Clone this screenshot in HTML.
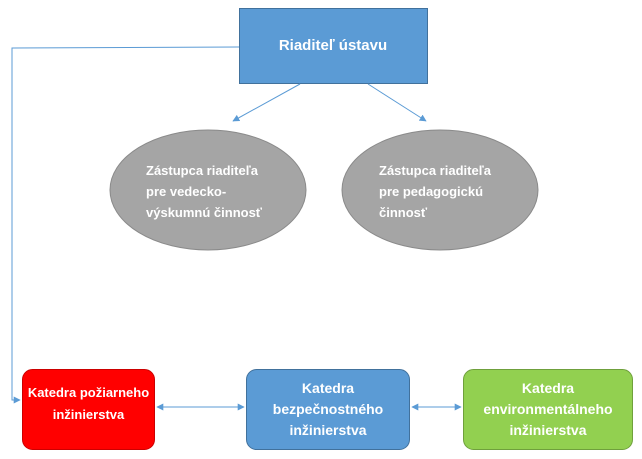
<!DOCTYPE html>
<html><head><meta charset="utf-8"><style>
body{margin:0;width:642px;height:459px;background:#fff;position:relative;overflow:hidden;font-family:"Liberation Sans",sans-serif}
.t{position:absolute;color:#fff;font-weight:bold;font-size:14px;line-height:21px;text-align:center;display:flex;align-items:center;justify-content:center}
</style></head><body>
<svg width="642" height="459" style="position:absolute;left:0;top:0">
<defs><marker id="a" viewBox="0 0 10 10" refX="9" refY="5" markerWidth="7" markerHeight="7" orient="auto-start-reverse"><path d="M0,0L10,5L0,10z" fill="#5b9bd5"/></marker></defs>
<rect x="239.5" y="8.5" width="188" height="75" fill="#5b9bd5" stroke="#41719c"/>
<ellipse cx="208" cy="190" rx="98" ry="60" fill="#a5a5a5" stroke="#8a8a8a"/>
<ellipse cx="440" cy="190" rx="98" ry="60" fill="#a5a5a5" stroke="#8a8a8a"/>
<rect x="22.5" y="369.5" width="132" height="80" rx="10" fill="#ff0000" stroke="#c00"/>
<rect x="246.5" y="369.5" width="163" height="80" rx="10" fill="#5b9bd5" stroke="#41719c"/>
<rect x="463.5" y="369.5" width="169" height="80" rx="10" fill="#92d050" stroke="#6fa03c"/>
<g stroke="#5b9bd5" stroke-width="1" fill="none">
<path d="M239,47 L12,48 L12,400 L20,400" marker-end="url(#a)"/>
<path d="M300,84 L233,121" marker-end="url(#a)"/>
<path d="M368,84 L426,121" marker-end="url(#a)"/>
<path d="M157,407 L244,407" marker-start="url(#a)" marker-end="url(#a)"/>
<path d="M412,407 L461,407" marker-start="url(#a)" marker-end="url(#a)"/>
</g>
</svg>
<div class="t" style="left:239px;top:8px;width:188px;height:75px;font-size:15px">Riaditeľ ústavu</div>
<div class="t" style="left:146px;top:155px;width:130px;height:72px;text-align:left;justify-content:flex-start;font-size:13px">Zástupca riaditeľa<br>pre vedecko-<br>výskumnú činnosť</div>
<div class="t" style="left:379px;top:155px;width:130px;height:72px;text-align:left;justify-content:flex-start;font-size:13px">Zástupca riaditeľa<br>pre pedagogickú<br>činnosť</div>
<div class="t" style="left:22px;top:369px;width:133px;height:70px;font-size:13px;line-height:22px">Katedra požiarneho<br>inžinierstva</div>
<div class="t" style="left:246px;top:369px;width:164px;height:80px">Katedra<br>bezpečnostného<br>inžinierstva</div>
<div class="t" style="left:463px;top:369px;width:170px;height:80px">Katedra<br>environmentálneho<br>inžinierstva</div>
</body></html>
